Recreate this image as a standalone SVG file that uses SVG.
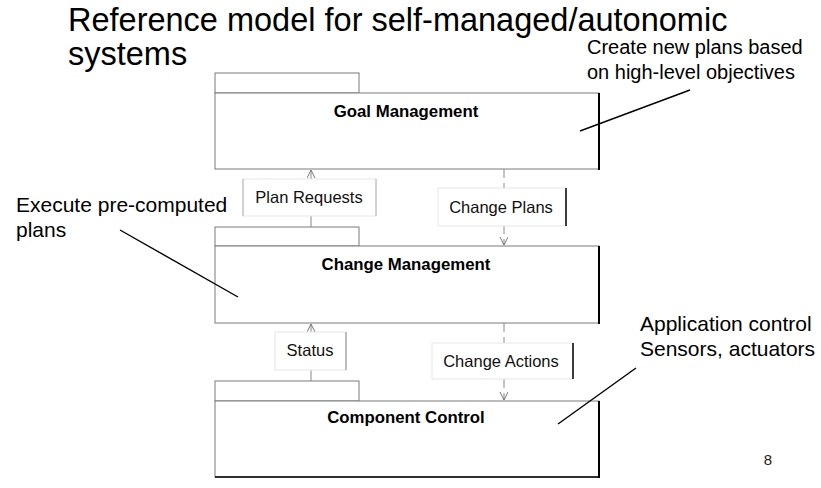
<svg xmlns="http://www.w3.org/2000/svg" width="821" height="488" viewBox="0 0 821 488">
<defs>
<marker id="open" markerWidth="10" markerHeight="10" refX="8" refY="4" orient="auto" markerUnits="userSpaceOnUse">
<path d="M0,0 L8,4 L0,8" fill="none" stroke="#777" stroke-width="1"/>
</marker>
</defs>
<style>
text{font-family:"Liberation Sans",Arial,sans-serif;fill:#000}
.title{font-size:32.5px}
.ann{font-size:20px}
.ann2{font-size:21px}
.node{font-size:16.8px;font-weight:bold;text-anchor:middle}
.lbl{font-size:16.5px;text-anchor:middle;fill:#111}
.box{fill:#fff;stroke:#7a7a7a;stroke-width:1}
.edge{stroke:#000;stroke-width:2}
.conn{stroke:#888;stroke-width:1;fill:none}
.dash{stroke-dasharray:9,5}
.lblbox{fill:#fff;stroke:#e6e6e6;stroke-width:1}
.side{stroke:#b0b0b0;stroke-width:1}
.sidek{stroke:#000;stroke-width:1.5}
.pt{stroke:#000;stroke-width:1.4}
</style>
<rect width="821" height="488" fill="#fff"/>
<text class="title" x="68" y="31">Reference model for self-managed/autonomic</text>
<text class="title" x="68" y="65">systems</text>

<g id="goal">
<rect class="box" x="215" y="73" width="144" height="20"/>
<rect class="box" x="215" y="93" width="384" height="76"/>
<line class="edge" x1="599" y1="93" x2="599" y2="170"/>
<text class="node" x="406" y="117">Goal Management</text>
</g>
<g id="change">
<rect class="box" x="215" y="227" width="144" height="19"/>
<rect class="box" x="215" y="246" width="384" height="77"/>
<line class="edge" x1="599" y1="246" x2="599" y2="324"/>
<text class="node" x="406" y="270">Change Management</text>
</g>
<g id="component">
<rect class="box" x="215" y="381" width="144" height="20"/>
<rect class="box" x="215" y="401" width="384" height="76"/>
<line class="edge" x1="599" y1="401" x2="599" y2="478"/>
<line class="edge" x1="215" y1="477" x2="600" y2="477" style="stroke-width:1.5"/>
<text class="node" x="406" y="423">Component Control</text>
</g>

<g id="connectors">
<line class="conn" x1="311" y1="227" x2="311" y2="170" marker-end="url(#open)"/>
<line class="conn dash" x1="504" y1="169" x2="504" y2="245" marker-end="url(#open)"/>
<line class="conn" x1="311" y1="381" x2="311" y2="324" marker-end="url(#open)"/>
<line class="conn dash" x1="504" y1="323" x2="504" y2="400" marker-end="url(#open)"/>

<rect class="lblbox" x="243" y="179" width="133" height="37"/>
<line class="side" x1="243" y1="179" x2="243" y2="216"/>
<line class="side" x1="376" y1="179" x2="376" y2="216"/>
<text class="lbl" x="309" y="203">Plan Requests</text>

<rect class="lblbox" x="438" y="188" width="128" height="38"/>
<line class="sidek" x1="566" y1="188" x2="566" y2="226"/>
<text class="lbl" x="501" y="213">Change Plans</text>

<rect class="lblbox" x="275" y="332" width="71" height="38"/>
<line class="side" x1="346" y1="332" x2="346" y2="370" style="stroke:#888"/>
<text class="lbl" x="310" y="356">Status</text>

<rect class="lblbox" x="432" y="343" width="141" height="36"/>
<line class="sidek" x1="573" y1="343" x2="573" y2="379"/>
<text class="lbl" x="501" y="367">Change Actions</text>
</g>

<g id="annotations">
<line class="pt" x1="690" y1="90" x2="580" y2="131"/>
<text class="ann" x="587" y="54">Create new plans based</text>
<text class="ann" x="587" y="79">on high-level objectives</text>
<line class="pt" x1="120" y1="230" x2="238" y2="297"/>
<text class="ann2" x="16" y="212">Execute pre-computed</text>
<text class="ann2" x="16" y="237">plans</text>
<line class="pt" x1="636" y1="368" x2="558" y2="424"/>
<text class="ann2" x="640" y="331">Application control</text>
<text class="ann2" x="640" y="356">Sensors, actuators</text>
<text x="768" y="465" style="font-size:15px;text-anchor:middle;fill:#222">8</text>
</g>
</svg>
